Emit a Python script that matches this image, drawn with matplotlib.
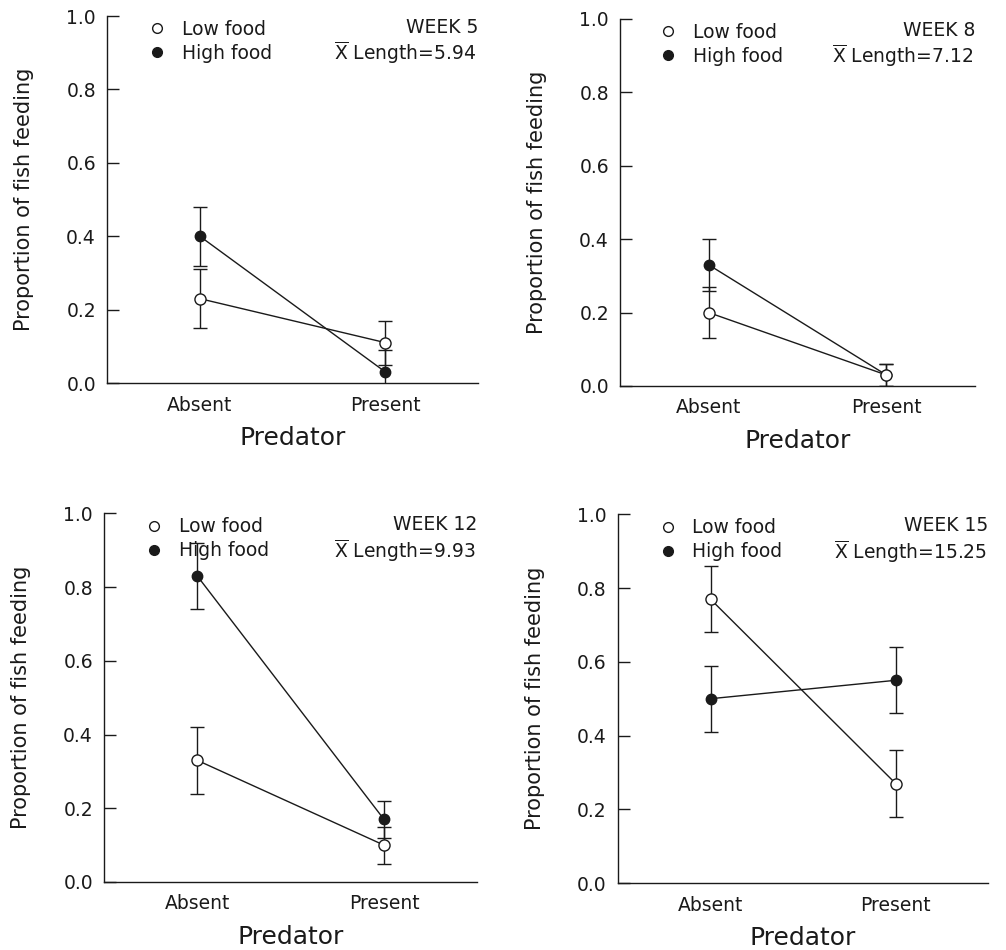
import matplotlib
matplotlib.use('Agg')
import matplotlib.pyplot as plt
from matplotlib.lines import Line2D

weeks = [5, 8, 12, 15]
mean_length = [5.94, 7.12, 9.93, 15.25]
predator = ['Absent', 'Present']
low_mean = [[0.23, 0.11], [0.20, 0.03], [0.33, 0.10], [0.77, 0.27]]
low_se = [[0.08, 0.06], [0.07, 0.03], [0.09, 0.05], [0.09, 0.09]]
high_mean = [[0.40, 0.03], [0.33, 0.03], [0.83, 0.17], [0.50, 0.55]]
high_se = [[0.08, 0.06], [0.07, 0.03], [0.09, 0.05], [0.09, 0.09]]

plt.rcParams['font.family'] = ['DejaVu Sans']
ink = '#1a1a1a'
fs = 13.5

fig = plt.figure(figsize=(10.06, 9.5), dpi=100)
rects = [[0.1064, 0.5968, 0.369, 0.3863],
         [0.6163, 0.5937, 0.353, 0.3863],
         [0.1034, 0.0716, 0.371, 0.388],
         [0.6143, 0.0705, 0.368, 0.388]]

for k in range(4):
    ax = fig.add_axes(rects[k])
    x = list(range(len(predator)))
    ax.errorbar(x, high_mean[k], yerr=high_se[k], color=ink, lw=1.0,
                marker='o', ms=7.5, mfc=ink, mec=ink, capsize=5, capthick=1.0,
                elinewidth=1.0, zorder=3)
    ax.errorbar(x, low_mean[k], yerr=low_se[k], color=ink, lw=1.0,
                marker='o', ms=8, mfc='white', mec=ink, mew=1.0, capsize=5,
                capthick=1.0, elinewidth=1.0, zorder=4)

    ax.set_xlim(-0.5, 1.5)
    ax.set_ylim(0, 1.0)
    ax.set_xticks(x)
    ax.set_xticklabels(predator)
    ax.set_yticks([0.0, 0.2, 0.4, 0.6, 0.8, 1.0])
    ax.set_yticklabels(['0.0', '0.2', '0.4', '0.6', '0.8', '1.0'])
    ax.tick_params(axis='x', length=0, pad=9, labelsize=fs, colors=ink)
    ax.tick_params(axis='y', direction='in', length=8.5, width=1.0, pad=8,
                   labelsize=fs, colors=ink)
    for s in ['top', 'right']:
        ax.spines[s].set_visible(False)
    for s in ['left', 'bottom']:
        ax.spines[s].set_linewidth(1.0)
        ax.spines[s].set_color(ink)
    ax.set_xlabel('Predator', fontsize=18, color=ink, labelpad=8)
    ax.set_ylabel('Proportion of fish feeding', fontsize=15, color=ink, labelpad=23)

    handles = [Line2D([], [], ls='none', marker='o', ms=7, mfc='white', mec=ink),
               Line2D([], [], ls='none', marker='o', ms=7, mfc=ink, mec=ink)]
    ax.legend(handles, ['Low food', 'High food'], loc='upper left',
              bbox_to_anchor=(0.11, 0.99), frameon=False, fontsize=fs,
              handlelength=1.0, handletextpad=0.8, labelspacing=0.27,
              borderpad=0, borderaxespad=0, labelcolor=ink)
    ax.text(1.0, 0.97, 'WEEK %d' % weeks[k], transform=ax.transAxes,
            ha='right', va='center', fontsize=fs, color=ink)
    ax.text(0.995, 0.90, r'$\overline{\mathrm{X}}$ Length=%.2f' % mean_length[k],
            transform=ax.transAxes, ha='right', va='center', fontsize=fs, color=ink)

fig.savefig('out.png', dpi=100)
